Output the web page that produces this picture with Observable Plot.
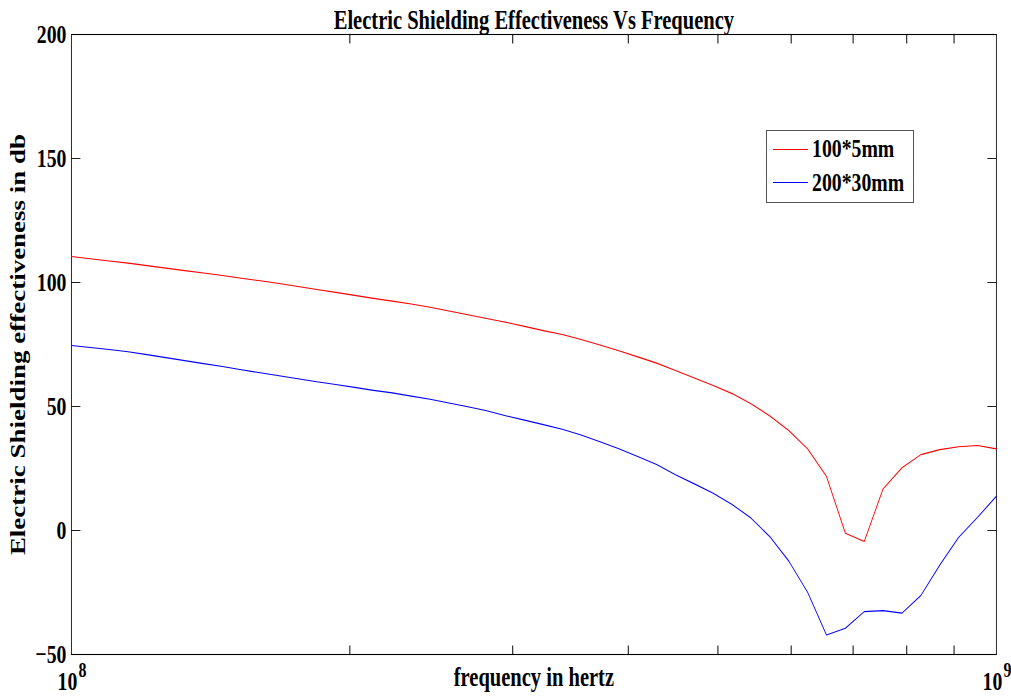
<!DOCTYPE html>
<html>
<head>
<meta charset="utf-8">
<script src="https://cdn.jsdelivr.net/npm/d3@7"></script>
<script src="https://cdn.jsdelivr.net/npm/@observablehq/plot@0.6"></script>
<style>
  html, body { margin: 0; padding: 0; background: #fff; overflow: hidden; }
  #wrap { position: relative; width: 1011px; height: 699px; }
  #legend { position: absolute; left: 766px; top: 130px; width: 146px; height: 71px;
            border: 1px solid #555; background: #fff;
            font-family: "Liberation Serif", "Times New Roman", serif; font-weight: bold; font-size: 26px; color: #000; }
  .sw { position: absolute; left: 6px; width: 35px; height: 0; border-top: 1px solid; }
  .lab { position: absolute; left: 45px; transform: scaleX(0.76); transform-origin: 0 0; white-space: nowrap; line-height: 1; }
</style>
</head>
<body>
<div id="wrap">
  <div id="chart"></div>
  <div id="legend"></div>
</div>
<script>
// ---- data ----
const titleText = "Electric Shielding Effectiveness Vs Frequency";
const xLabelText = "frequency in hertz";
const yLabelText = "Electric Shielding effectiveness in db";
const seriesNames = ["100*5mm", "200*30mm"];
const seriesColors = ["#ff0000", "#0000ff"];

// frequency samples (MHz), log-spaced from 100 MHz to 1 GHz
const freqMHz = [100.00, 104.81, 109.85, 115.14, 120.68, 126.49, 132.57, 138.95, 145.64, 152.64,
                 159.99, 167.68, 175.75, 184.21, 193.07, 202.36, 212.10, 222.30, 233.00, 244.21,
                 255.95, 268.27, 281.18, 294.71, 308.88, 323.75, 339.32, 355.65, 372.76, 390.69,
                 409.49, 429.19, 449.84, 471.49, 494.17, 517.95, 542.87, 568.99, 596.36, 625.06,
                 655.13, 686.65, 719.69, 754.31, 790.60, 828.64, 868.51, 910.30, 954.10, 1000.00];

const se100x5 = [110.5, 109.6, 108.7, 107.8, 106.8, 105.8, 104.8, 103.8, 102.8, 101.7,
                 100.7, 99.6, 98.4, 97.2, 96.0, 94.8, 93.6, 92.5, 91.3, 90.0,
                 88.5, 87.0, 85.5, 84.0, 82.3, 80.6, 79.0, 77.0, 74.8, 72.5,
                 70.0, 67.5, 64.5, 61.5, 58.5, 55.2, 51.1, 46.2, 40.3, 32.9,
                 21.8, -1.1, -4.4, 16.8, 25.3, 30.6, 32.6, 33.8, 34.3, 32.9];

const se200x30 = [74.6, 73.8, 73.0, 72.1, 70.9, 69.7, 68.5, 67.3, 66.1, 64.8,
                  63.6, 62.4, 61.2, 60.0, 58.9, 57.7, 56.5, 55.5, 54.2, 52.9,
                  51.4, 49.9, 48.3, 46.3, 44.5, 42.7, 40.8, 38.5, 35.8, 33.0,
                  29.8, 26.6, 22.5, 18.8, 15.0, 10.5, 5.0, -2.5, -12.3, -24.9,
                  -42.1, -39.4, -32.7, -32.3, -33.3, -26.2, -14.0, -2.8, 5.3, 13.8];

const xDomain = [1e8, 1e9];
const yDomain = [-50, 200];
const yTicks = [-50, 0, 50, 100, 150, 200];
const xMajor = [1e8, 1e9];
const xBase = ["10", "10"];
const xExp = ["8", "9"];
const xMinor = [2e8, 3e8, 4e8, 5e8, 6e8, 7e8, 8e8, 9e8];

// ---- layout ----
const OUT_W = 1011, H = 699;
const S = 0.76;                       // horizontal compression of the reference
const W = Math.round(OUT_W / S);
const font = "Liberation Serif, Times New Roman, serif";

const table = [];
freqMHz.forEach((f, i) => {
  table.push({f: f * 1e6, db: se100x5[i], s: seriesNames[0]});
});
freqMHz.forEach((f, i) => {
  table.push({f: f * 1e6, db: se200x30[i], s: seriesNames[1]});
});

const tickSym = (dx, dy) => ({
  draw(ctx, size) {
    const l = Math.sqrt(size / Math.PI);
    ctx.moveTo(0, 0);
    ctx.lineTo(dx * l, dy * l);
  }
});

const chart = Plot.plot({
  width: W, height: H,
  marginLeft: 71 / S, marginRight: 15 / S, marginTop: 34, marginBottom: 45,
  x: {type: "log", domain: xDomain},
  y: {domain: yDomain},
  color: {domain: seriesNames, range: seriesColors},
  style: {fontFamily: font, fontWeight: "bold", background: "white", color: "black", overflow: "visible"},
  marks: [
    Plot.frame({stroke: "black", strokeWidth: 1.1}),
    Plot.line(table, {x: "f", y: "db", z: "s", stroke: "s", strokeWidth: 1.1}),
    // inward ticks on all four sides
    Plot.dot(yTicks, {x: () => xDomain[0], y: d => d, symbol: tickSym(1, 0), r: 9 / S, stroke: "black", fill: "none", strokeWidth: 1}),
    Plot.dot(yTicks, {x: () => xDomain[1], y: d => d, symbol: tickSym(-1, 0), r: 9 / S, stroke: "black", fill: "none", strokeWidth: 1}),
    Plot.dot(xMinor, {x: d => d, y: () => yDomain[0], symbol: tickSym(0, -1), r: 9, stroke: "black", fill: "none", strokeWidth: 1.3}),
    Plot.dot(xMinor, {x: d => d, y: () => yDomain[1], symbol: tickSym(0, 1), r: 9, stroke: "black", fill: "none", strokeWidth: 1.3}),
    Plot.axisY(yTicks, {anchor: "left", tickSize: 0, tickPadding: 5 / S, fontSize: 26, label: null}),
    Plot.axisX(xMajor, {anchor: "bottom", tickSize: 0, tickPadding: 17, fontSize: 26, dx: -4 / S, label: null,
                        tickFormat: d => xBase[xMajor.indexOf(d)]}),
    Plot.text(xMajor, {x: d => d, frameAnchor: "bottom", text: d => xExp[xMajor.indexOf(d)],
                       lineAnchor: "bottom", dy: 22.7, dx: 11 / S, fontSize: 21}),
    Plot.text([titleText], {frameAnchor: "top", text: d => d, lineAnchor: "bottom", dy: -5.7, fontSize: 27}),
    Plot.text([xLabelText], {frameAnchor: "bottom", text: d => d, lineAnchor: "bottom", dy: 31, fontSize: 27}),
    Plot.text([yLabelText], {frameAnchor: "left", text: d => d, rotate: -90, lineAnchor: "bottom",
                             textAnchor: "middle", dx: 25 / S - 71 / S, fontSize: 27})
  ]
});

chart.setAttribute("width", OUT_W);
chart.setAttribute("height", H);
chart.setAttribute("viewBox", `0 0 ${W} ${H}`);
chart.setAttribute("preserveAspectRatio", "none");
chart.style.width = OUT_W + "px";
chart.style.height = H + "px";
chart.style.maxWidth = "none";
document.getElementById("chart").appendChild(chart);

// legend (HTML overlay inside the axes box, as in the reference)
const legend = document.getElementById("legend");
const rowTops = [5.2, 38.9];
const swatchTops = [17.7, 50.7];
seriesNames.forEach((name, i) => {
  const sw = document.createElement("div");
  sw.className = "sw";
  sw.style.top = swatchTops[i] + "px";
  sw.style.borderTopColor = seriesColors[i];
  legend.appendChild(sw);
  const lab = document.createElement("div");
  lab.className = "lab";
  lab.style.top = rowTops[i] + "px";
  lab.textContent = name;
  legend.appendChild(lab);
});
</script>
</body>
</html>
